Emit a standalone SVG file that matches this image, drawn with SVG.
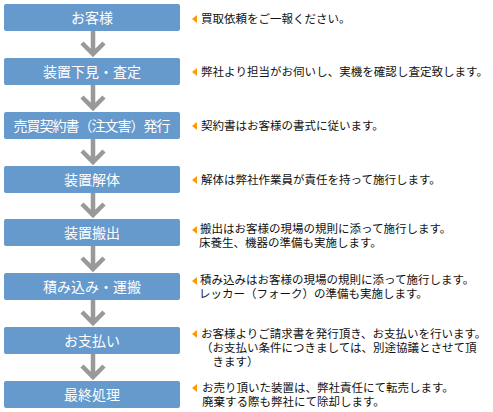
<svg xmlns="http://www.w3.org/2000/svg" width="493" height="412" viewBox="0 0 493 412">
<style>
.box{fill:#6699cc}
.lbl{fill:#ffffff;font-family:"Noto Sans CJK JP","Noto Sans",sans-serif;font-size:14px;text-anchor:middle}
.desc{fill:#111111;font-family:"Noto Sans CJK JP","Noto Sans",sans-serif;font-size:11.5px}
.tri{fill:#ff9900}
.arr{fill:none;stroke:#999999;stroke-width:4.5}
</style>
<rect width="493" height="412" fill="#ffffff"/>
<g id="connectors">
<path class="arr" d="M93,31 V54 M82,43 L93,54 L104,43"/>
<path class="arr" d="M93,85 V108 M82,97 L93,108 L104,97"/>
<path class="arr" d="M93,139 V162 M82,151 L93,162 L104,151"/>
<path class="arr" d="M93,193 V215 M82,204 L93,215 L104,204"/>
<path class="arr" d="M93,246 V269 M82,258 L93,269 L104,258"/>
<path class="arr" d="M93,300 V323 M82,312 L93,323 L104,312"/>
<path class="arr" d="M93,354 V377 M82,366 L93,377 L104,366"/>
</g>
<g id="n1">
<rect class="box" x="4" y="4" width="176" height="27" rx="2"/>
<text class="lbl" x="92" y="22.5">お客様</text>
<polygon class="tri" points="192,19 197,15 197,23"/>
<text class="desc" x="201" y="23">買取依頼をご一報ください。</text>
</g>
<g id="n2">
<rect class="box" x="4" y="58" width="176" height="27" rx="2"/>
<text class="lbl" x="92" y="76.5">装置下見・査定</text>
<polygon class="tri" points="192,72 197,68 197,76"/>
<text class="desc" x="201" y="76" textLength="287">弊社より担当がお伺いし、実機を確認し査定致します。</text>
</g>
<g id="n3">
<rect class="box" x="4" y="112" width="176" height="27" rx="2"/>
<text class="lbl" x="92" y="130.5" textLength="157">売買契約書（注文害）発行</text>
<polygon class="tri" points="192,126 197,122 197,130"/>
<text class="desc" x="201" y="130">契約書はお客様の書式に従います。</text>
</g>
<g id="n4">
<rect class="box" x="4" y="166" width="176" height="27" rx="2"/>
<text class="lbl" x="92" y="184.5">装置解体</text>
<polygon class="tri" points="192,180 197,176 197,184"/>
<text class="desc" x="201" y="184">解体は弊社作業員が責任を持って施行します。</text>
</g>
<g id="n5">
<rect class="box" x="4" y="219" width="176" height="27" rx="2"/>
<text class="lbl" x="92" y="237.5">装置搬出</text>
<polygon class="tri" points="192,230 197,226 197,234"/>
<text class="desc"><tspan x="200" y="233">搬出はお客様の現場の規則に添って施行します。</tspan><tspan x="199" y="247">床養生、機器の準備も実施します。</tspan></text>
</g>
<g id="n6">
<rect class="box" x="4" y="273" width="176" height="27" rx="2"/>
<text class="lbl" x="92" y="291.5">積み込み・運搬</text>
<polygon class="tri" points="192,281 197,277 197,285"/>
<text class="desc"><tspan x="200" y="284">積み込みはお客様の現場の規則に添って施行します。</tspan><tspan x="199" y="298">レッカー（フォーク）の準備も実施します。</tspan></text>
</g>
<g id="n7">
<rect class="box" x="4" y="327" width="176" height="27" rx="2"/>
<text class="lbl" x="92" y="345.5">お支払い</text>
<polygon class="tri" points="192,334 197,330 197,338"/>
<text class="desc"><tspan x="201" y="338">お客様よりご請求書を発行頂き、お支払いを行います。</tspan><tspan x="201" y="352">（お支払い条件につきましては、別途協議とさせて頂</tspan><tspan x="201" y="366">　きます）</tspan></text>
</g>
<g id="n8">
<rect class="box" x="4" y="381" width="176" height="27" rx="2"/>
<text class="lbl" x="92" y="399.5">最終処理</text>
<polygon class="tri" points="192,388 197,384 197,392"/>
<text class="desc"><tspan x="202" y="392">お売り頂いた装置は、弊社責任にて転売します。</tspan><tspan x="202" y="406">廃棄する際も弊社にて除却します。</tspan></text>
</g>
</svg>
